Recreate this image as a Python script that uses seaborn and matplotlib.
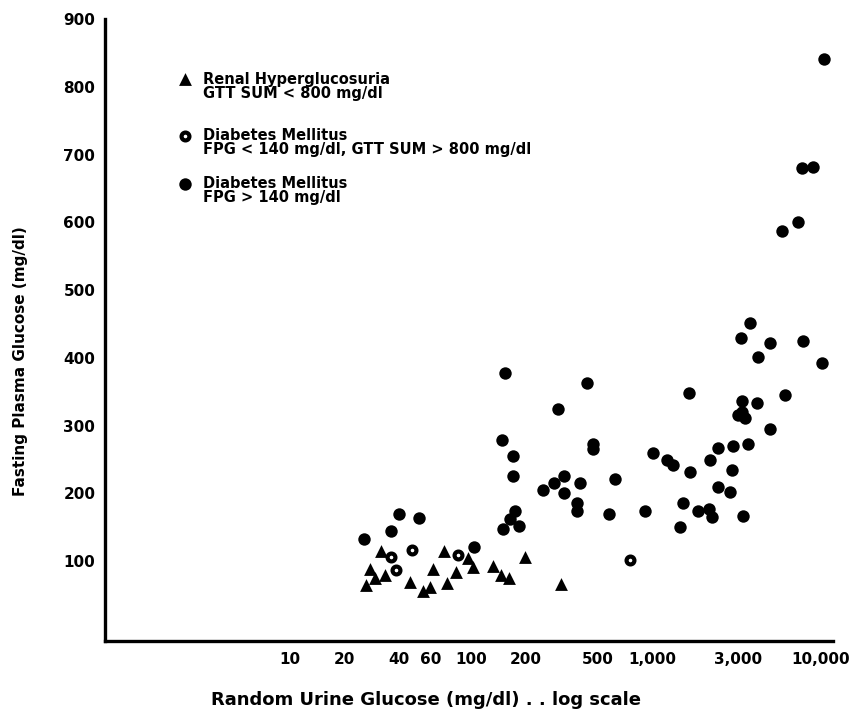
import matplotlib
matplotlib.use("Agg")
import matplotlib.pyplot as plt
import seaborn as sns
import pandas as pd
from matplotlib.ticker import FixedLocator, FixedFormatter, NullLocator
from matplotlib.transforms import ScaledTranslation

# ---- data ----
# Renal Hyperglucosuria (triangles)
renal_x = [31.8, 71, 199, 27.7, 26.3, 29.5, 33.5, 46, 54.3, 59.3, 61.6, 82.6, 73.6,
           96.2, 103, 133, 147, 163, 314]
renal_y = [115, 115, 106, 88, 65, 75, 80, 69, 56, 62, 88, 84, 68,
           105, 91, 93, 80, 75, 66]

# Diabetes Mellitus, FPG < 140, GTT SUM > 800 (open circles)
open_x = [47.2, 36.1, 84.7, 38.5, 755]
open_y = [117, 106, 109, 87, 102]

# Diabetes Mellitus, FPG > 140 (filled circles)
dm_x = [154, 437, 303, 148, 171, 171, 472, 472, 625, 327, 288, 327, 400, 250,
        385, 385, 578, 914, 175, 164, 184, 150, 40, 51.6, 36.1, 25.6, 104,
        1590, 1013, 1211, 1306, 1622, 1483, 1792, 2063, 2140, 1430,
        8913, 6745, 7762, 6412, 5228, 3475, 3102, 4487, 6825, 3855, 8690,
        5432, 3140, 3802, 2985, 3265, 3140, 4487, 2317, 2805, 3390, 2089,
        2767, 2317, 2698, 3183]
dm_y = [378, 363, 324, 279, 255, 226, 273, 265, 221, 226, 215, 201, 215, 205,
        186, 174, 170, 174, 174, 162, 152, 147, 170, 164, 145, 133, 121,
        348, 260, 249, 242, 231, 186, 174, 177, 165, 150,
        841, 680, 681, 600, 587, 451, 429, 422, 425, 401, 392,
        345, 336, 333, 316, 311, 320, 295, 267, 270, 273, 249,
        235, 209, 202, 167]

legend_lines = [
    ("Renal Hyperglucosuria", "GTT SUM < 800 mg/dl"),
    ("Diabetes Mellitus", "FPG < 140 mg/dl, GTT SUM > 800 mg/dl"),
    ("Diabetes Mellitus", "FPG > 140 mg/dl"),
]

xtick_vals = [10, 20, 30, 40, 50, 60, 70, 80, 90, 100, 200, 300, 500,
              1000, 2000, 3000, 5000, 10000]
xtick_labels = ["10", "20", "", "40", "", "60", "", "", "", "100", "200", "",
                "500", "1,000", "", "3,000", "", "10,000"]
ytick_vals = [100, 200, 300, 400, 500, 600, 700, 800, 900]
ytick_labels = ["100", "200", "300", "400", "500", "600", "700", "800", "900"]

xlabel = "Random Urine Glucose (mg/dl) . . log scale"
ylabel = "Fasting Plasma Glucose (mg/dl)"

# ---- style ----
sns.set_theme(style="white")
plt.rcParams["font.family"] = ["DejaVu Sans"]
plt.rcParams["font.weight"] = "bold"

fig = plt.figure(figsize=(8.54, 7.14), dpi=100)
ax = fig.add_axes([0.1230, 0.1022, 0.8525, 0.8711])

renal = pd.DataFrame({"x": renal_x, "y": renal_y})
opn = pd.DataFrame({"x": open_x, "y": open_y})
dm = pd.DataFrame({"x": dm_x, "y": dm_y})

sns.scatterplot(data=dm, x="x", y="y", marker="o", s=80, color="black",
                edgecolor="black", linewidth=0, ax=ax, legend=False, zorder=3)
sns.scatterplot(data=renal, x="x", y="y", marker="^", s=85, color="black",
                edgecolor="black", linewidth=0, ax=ax, legend=False, zorder=3)
sns.scatterplot(data=opn, x="x", y="y", marker="o", s=32, facecolor="white",
                edgecolor="black", linewidth=3.0, ax=ax, legend=False, zorder=4)

ax.set_xscale("log")
ax.set_xlim(0.95, 10000)
ax.set_ylim(-18, 900)

ax.xaxis.set_major_locator(FixedLocator(xtick_vals))
ax.xaxis.set_major_formatter(FixedFormatter(xtick_labels))
ax.xaxis.set_minor_locator(NullLocator())
ax.yaxis.set_major_locator(FixedLocator(ytick_vals))
ax.yaxis.set_major_formatter(FixedFormatter(ytick_labels))

ax.tick_params(axis="x", direction="in", length=5, width=2, colors="black",
               labelsize=11, pad=8)
ax.tick_params(axis="y", direction="in", length=5, width=2, colors="black",
               labelsize=11, pad=7)
for lab in ax.get_xticklabels() + ax.get_yticklabels():
    lab.set_fontweight("bold")
# keep the last x label inside the figure, as in the reference
last = ax.get_xticklabels()[-1]
last.set_transform(last.get_transform() + ScaledTranslation(-9 / 72, 0, fig.dpi_scale_trans))

for s in ["top", "right"]:
    ax.spines[s].set_visible(False)
for s in ["left", "bottom"]:
    ax.spines[s].set_color("black")
    ax.spines[s].set_linewidth(2.4)

ax.set_xlabel(xlabel, fontsize=13, fontweight="bold", color="black")
ax.set_ylabel(ylabel, fontsize=11, fontweight="bold", color="black")
ax.xaxis.set_label_coords(0.441, -0.080)
ax.yaxis.set_label_coords(-0.106, 0.45)

# ---- legend (manual, marker aligned with first line) ----
leg_markers = [dict(marker="^", s=85, c="black", linewidths=0),
               dict(marker="o", s=32, c="white", edgecolors="black", linewidths=3.0),
               dict(marker="o", s=80, c="black", linewidths=0)]
leg_y = [0.903, 0.812, 0.735]
mx, tx = 0.110, 0.135
line_gap = 0.0225
for (l1, l2), yy, mk in zip(legend_lines, leg_y, leg_markers):
    ax.scatter([mx], [yy], transform=ax.transAxes, clip_on=False, zorder=5, **mk)
    ax.text(tx, yy, l1, transform=ax.transAxes, va="center", ha="left",
            fontsize=10.5, fontweight="bold", color="black")
    ax.text(tx, yy - line_gap, l2, transform=ax.transAxes, va="center", ha="left",
            fontsize=10.5, fontweight="bold", color="black")

fig.savefig("out.png", dpi=100, facecolor="white")
